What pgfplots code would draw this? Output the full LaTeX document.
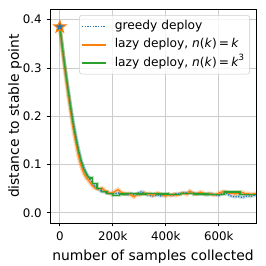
\documentclass[border=0pt]{standalone}
\usepackage{pgfplots}
\pgfplotsset{compat=1.18}
\usepackage{fontspec}
\setmainfont{DejaVu Sans}
\definecolor{tblue}{HTML}{1F77B4}
\definecolor{torange}{HTML}{FF7F0E}
\definecolor{tgreen}{HTML}{2CA02C}
\pgfdeclareplotmark{fstar}{%
  \pgfpathmoveto{\pgfpointpolar{90}{\pgfplotmarksize}}%
  \pgfpathlineto{\pgfpointpolar{126}{0.4\pgfplotmarksize}}%
  \pgfpathlineto{\pgfpointpolar{162}{\pgfplotmarksize}}%
  \pgfpathlineto{\pgfpointpolar{198}{0.4\pgfplotmarksize}}%
  \pgfpathlineto{\pgfpointpolar{234}{\pgfplotmarksize}}%
  \pgfpathlineto{\pgfpointpolar{270}{0.4\pgfplotmarksize}}%
  \pgfpathlineto{\pgfpointpolar{306}{\pgfplotmarksize}}%
  \pgfpathlineto{\pgfpointpolar{342}{0.4\pgfplotmarksize}}%
  \pgfpathlineto{\pgfpointpolar{18}{\pgfplotmarksize}}%
  \pgfpathlineto{\pgfpointpolar{54}{0.4\pgfplotmarksize}}%
  \pgfpathclose\pgfusepathqfillstroke}

\pgfplotstableread{
x y
0 0.385
10000 0.342
20000 0.300
30000 0.262
40000 0.224
50000 0.190
60000 0.160
70000 0.133
80000 0.110
90000 0.094
100000 0.082
110000 0.072
120000 0.064
130000 0.056
140000 0.051
150000 0.047
160000 0.044
170000 0.043
180000 0.041
190000 0.040
200000 0.039
210000 0.040
220000 0.041
230000 0.039
240000 0.038
250000 0.039
260000 0.038
270000 0.040
280000 0.037
290000 0.039
300000 0.042
310000 0.044
320000 0.040
330000 0.038
340000 0.036
350000 0.035
360000 0.036
370000 0.037
380000 0.035
390000 0.036
400000 0.037
410000 0.038
420000 0.036
430000 0.037
440000 0.040
450000 0.039
460000 0.040
470000 0.042
480000 0.041
490000 0.043
500000 0.042
510000 0.040
520000 0.039
530000 0.040
540000 0.039
550000 0.038
560000 0.037
570000 0.040
580000 0.038
590000 0.037
600000 0.036
610000 0.039
620000 0.041
630000 0.040
640000 0.036
650000 0.034
660000 0.033
670000 0.034
680000 0.033
690000 0.032
700000 0.034
710000 0.035
720000 0.034
730000 0.036
740000 0.037
}\greedy

\pgfplotstableread{
x y
0 0.385
10000 0.335
20000 0.292
30000 0.250
40000 0.212
50000 0.176
60000 0.146
70000 0.118
80000 0.097
90000 0.082
100000 0.072
110000 0.066
120000 0.058
130000 0.052
140000 0.050
150000 0.049
160000 0.051
170000 0.046
180000 0.043
190000 0.040
200000 0.042
210000 0.045
220000 0.048
230000 0.043
240000 0.041
250000 0.039
260000 0.040
270000 0.036
280000 0.033
290000 0.038
300000 0.037
310000 0.039
320000 0.041
330000 0.038
340000 0.040
350000 0.036
360000 0.039
370000 0.041
380000 0.038
390000 0.037
400000 0.035
410000 0.038
420000 0.036
430000 0.039
440000 0.036
450000 0.038
460000 0.041
470000 0.040
480000 0.038
490000 0.045
500000 0.041
510000 0.039
520000 0.040
530000 0.043
540000 0.041
550000 0.038
560000 0.040
570000 0.039
580000 0.037
590000 0.038
600000 0.041
610000 0.043
620000 0.044
630000 0.042
640000 0.040
650000 0.041
660000 0.039
670000 0.040
680000 0.041
690000 0.042
700000 0.039
710000 0.040
720000 0.038
730000 0.039
740000 0.040
}\lazyk

\pgfplotstableread{
x y
0 0.385
10000 0.340
20000 0.298
30000 0.258
40000 0.220
50000 0.185
60000 0.155
70000 0.129
80000 0.107
90000 0.091
100000 0.080
110000 0.072
}\lazykcubeA

\pgfplotstableread{
x y
110000 0.072
124000 0.060
140000 0.050
158000 0.044
178000 0.040
200000 0.036
226000 0.039
256000 0.040
290000 0.039
326000 0.040
366000 0.039
410000 0.038
456000 0.040
506000 0.039
560000 0.038
620000 0.043
680000 0.038
740000 0.038
}\lazykcubeB

\begin{document}
\begin{tikzpicture}
\useasboundingbox (-36pt,-31pt) rectangle (155.5pt,160.5pt);
\begin{axis}[
  scale only axis,
  width=148.3pt, height=154pt,
  at={(0,0)}, anchor=south west,
  xmin=-37000, xmax=740000,
  ymin=-0.021, ymax=0.422,
  xtick={0,200000,400000,600000},
  xticklabels={0,200k,400k,600k},
  scaled x ticks=false,
  ytick={0,0.1,0.2,0.3,0.4},
  yticklabel style={/pgf/number format/.cd,fixed,fixed zerofill,precision=1},
  /pgf/number format/assume math mode=true,
  tick align=outside,
  tick pos=left,
  major tick length=2.5pt,
  tick style={black, line width=0.6pt},
  grid=major,
  grid style={line width=0.6pt, color=black!20},
  axis line style={line width=0.6pt},
  ticklabel style={font=\fontsize{8.5}{10}\selectfont},
  label style={font=\fontsize{10}{12}\selectfont},
  xlabel={number of samples collected},
  ylabel={distance to stable point},
  xlabel style={yshift=0pt},
  ylabel style={yshift=-6pt},
  legend cell align=left,
  legend style={at={(0.971,0.972)}, anchor=north east,
    font=\fontsize{8.8}{10}\selectfont,
    draw=black!20, fill=white, fill opacity=0.8, text opacity=1,
    rounded corners=2pt, inner sep=1.5pt, row sep=0.2pt,
    nodes={inner sep=2pt, text height=6.8pt, text depth=2.2pt}},
  legend image code/.code={\draw[#1, line width=1.1pt] (0cm,0cm) -- (0.6cm,0cm); \path (0cm,0cm) (0.6cm+4pt,0cm);},
]
% bands
\addplot[forget plot, tblue, opacity=0.25, line width=2.5pt] table {\greedy};
\addplot[forget plot, torange, opacity=0.3, line width=3pt] table {\lazyk};
\addplot[forget plot, tgreen, opacity=0.3, line width=2.5pt] table {\lazykcubeA};
\addplot[forget plot, tgreen, opacity=0.3, line width=2.5pt, const plot] table {\lazykcubeB};
% lines
\addplot[tblue, densely dotted, line width=0.9pt] table {\greedy};
\addlegendentry{greedy deploy}
\addplot[torange, line width=0.9pt] table {\lazyk};
\addlegendentry{lazy deploy, \textit{n}(\textit{k})\,=\,\textit{k}}
\addplot[tgreen, line width=0.9pt] table {\lazykcubeA};
\addlegendentry{lazy deploy, \textit{n}(\textit{k})\,=\,\textit{k}\textsuperscript{3}}
\addplot[forget plot, tgreen, line width=0.9pt, const plot] table {\lazykcubeB};
\addplot[forget plot, only marks, mark=fstar, mark size=4.5pt, mark options={fill=tblue, draw=torange, line width=0.8pt}] coordinates {(0,0.385)};
\end{axis}
\end{tikzpicture}
\end{document}
